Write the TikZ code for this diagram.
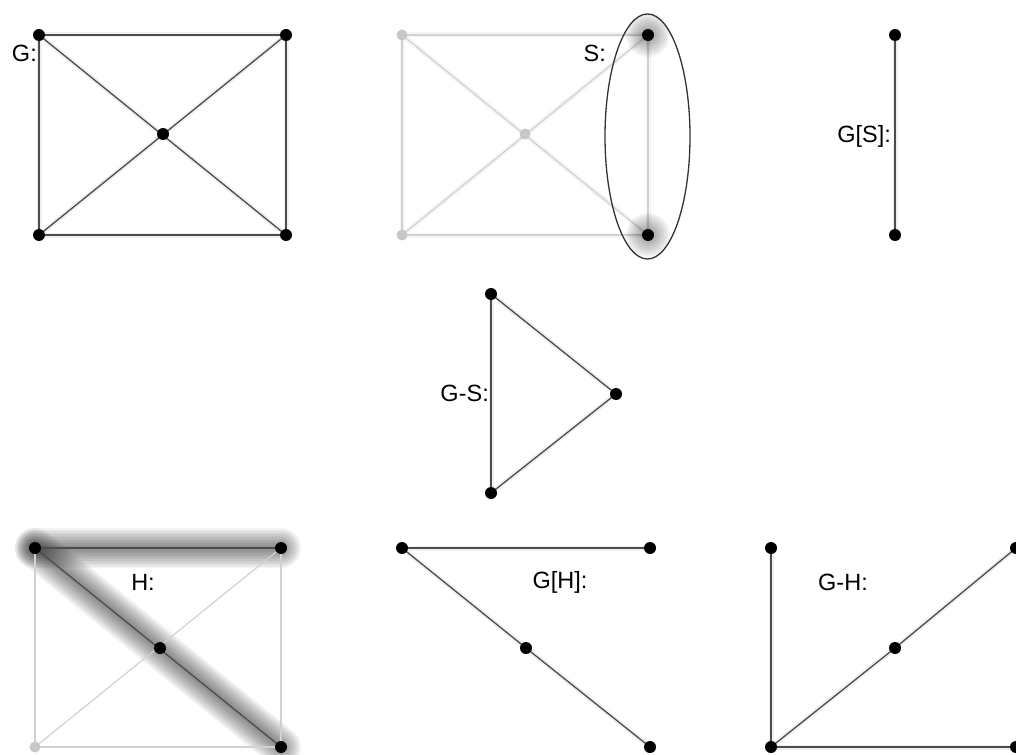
\documentclass[tikz,border=0pt]{standalone}
\usepackage{fontspec}
\setmainfont{Liberation Sans}
\usetikzlibrary{backgrounds,shapes.geometric}
\tikzset{
  x=1pt, y=-1pt,
  dot/.style={circle, fill=black, inner sep=0pt, minimum size=12pt},
  fdot/.style={circle, fill=black!22, inner sep=0pt, minimum size=11pt},
  edge/.style={draw=black!70, line width=1.3pt},
  fedge/.style={draw=black!18, line width=1.2pt},
  halo/.style={draw=black!6, line width=5pt},
  lbl/.style={font=\fontsize{23.5}{28}\selectfont, inner sep=0pt},
}
% soft shading along a highlighted edge
\newcommand{\glowedge}[2]{%
  \foreach \w in {40,37,...,4}{\draw[black, opacity=0.045, line width=\w pt, line cap=round] (#1.center) -- (#2.center);}}
% soft shading around a highlighted vertex
\newcommand{\glowdot}[1]{%
  \foreach \r in {22,20,...,6}{\fill[black, opacity=0.045] (#1.center) circle (\r pt);}}
\begin{document}
\begin{tikzpicture}
\useasboundingbox (0,0) rectangle (1016,754);

% ---- G ----
\node[dot] (ga) at (39,35) {};
\node[dot] (gb) at (286,35) {};
\node[dot] (gc) at (39,235) {};
\node[dot] (gd) at (286,235) {};
\node[dot] (ge) at (163,134) {};
\node[lbl, anchor=east] (gl) at (37,53) {G:};
\begin{scope}[on background layer]
  \foreach \u/\v in {ga/gb,gb/gd,gd/gc,gc/ga,ga/gd,gb/gc}{\draw[halo] (\u.center)--(\v.center);}
  \foreach \u/\v in {ga/gb,gb/gd,gd/gc,gc/ga,ga/gd,gb/gc}{\draw[edge] (\u.center)--(\v.center);}
\end{scope}

% ---- S in G ----
\node[fdot] (sa) at (402,35) {};
\node[dot] (sb) at (648,35) {};
\node[fdot] (sc) at (402,235) {};
\node[dot] (sd) at (648,235) {};
\node[fdot] (se) at (525,134) {};
\node[lbl, anchor=east] (sl) at (606,53) {S:};
\node[draw=black!80, line width=1.3pt, ellipse, minimum width=85pt, minimum height=245pt, inner sep=0pt] (sset) at (647.5,136.5) {};
\begin{scope}[on background layer]
  \foreach \u/\v in {sa/sb,sb/sd,sd/sc,sc/sa,sa/sd,sb/sc}{\draw[black!4, line width=5pt] (\u.center)--(\v.center);}
  \foreach \u/\v in {sa/sb,sb/sd,sd/sc,sc/sa,sa/sd,sb/sc}{\draw[fedge] (\u.center)--(\v.center);}
  \glowdot{sb}
  \glowdot{sd}
\end{scope}

% ---- G[S] ----
\node[dot] (ta) at (895,35) {};
\node[dot] (tb) at (895,235) {};
\node[lbl, anchor=east] (tl) at (891,136) {G[S]:};
\begin{scope}[on background layer]
  \draw[halo] (ta.center)--(tb.center);
  \draw[edge] (ta.center)--(tb.center);
\end{scope}

% ---- G-S ----
\node[dot] (ma) at (491,294) {};
\node[dot] (mb) at (491,493) {};
\node[dot] (mc) at (616,394) {};
\node[lbl, anchor=east] (ml) at (489,393) {G-S:};
\begin{scope}[on background layer]
  \foreach \u/\v in {ma/mb,mb/mc,mc/ma}{\draw[halo] (\u.center)--(\v.center);}
  \foreach \u/\v in {ma/mb,mb/mc,mc/ma}{\draw[edge] (\u.center)--(\v.center);}
\end{scope}

% ---- H in G ----
\node[dot] (ha) at (35,548) {};
\node[dot] (hb) at (281,548) {};
\node[fdot] (hc) at (35,747) {};
\node[dot] (hd) at (281,747) {};
\node[dot] (he) at (160,648) {};
\node[lbl] (hl) at (143,582) {H:};
\begin{scope}[on background layer]
  \glowedge{ha}{hb}
  \glowedge{ha}{hd}
  \foreach \u/\v in {hb/hd,hd/hc,hc/ha,hb/hc}{\draw[fedge] (\u.center)--(\v.center);}
  \foreach \u/\v in {ha/hb,ha/hd}{\draw[edge] (\u.center)--(\v.center);}
\end{scope}

% ---- G[H] ----
\node[dot] (ia) at (402,548) {};
\node[dot] (ib) at (650,548) {};
\node[dot] (ic) at (526,648) {};
\node[dot] (id) at (650,747) {};
\node[lbl] (il) at (560,582) {G[H]:};
\begin{scope}[on background layer]
  \foreach \u/\v in {ia/ib,ia/ic,ic/id}{\draw[halo] (\u.center)--(\v.center);}
  \foreach \u/\v in {ia/ib,ia/ic,ic/id}{\draw[edge] (\u.center)--(\v.center);}
\end{scope}

% ---- G-H ----
\node[dot] (ja) at (771,548) {};
\node[dot] (jb) at (1016,548) {};
\node[dot] (jc) at (895,648) {};
\node[dot] (jd) at (771,747) {};
\node[dot] (je) at (1016,747) {};
\node[lbl] (jl) at (843,582) {G-H:};
\begin{scope}[on background layer]
  \foreach \u/\v in {ja/jd,jd/jc,jc/jb,jd/je}{\draw[halo] (\u.center)--(\v.center);}
  \foreach \u/\v in {ja/jd,jd/jc,jc/jb,jd/je}{\draw[edge] (\u.center)--(\v.center);}
\end{scope}
\end{tikzpicture}
\end{document}
